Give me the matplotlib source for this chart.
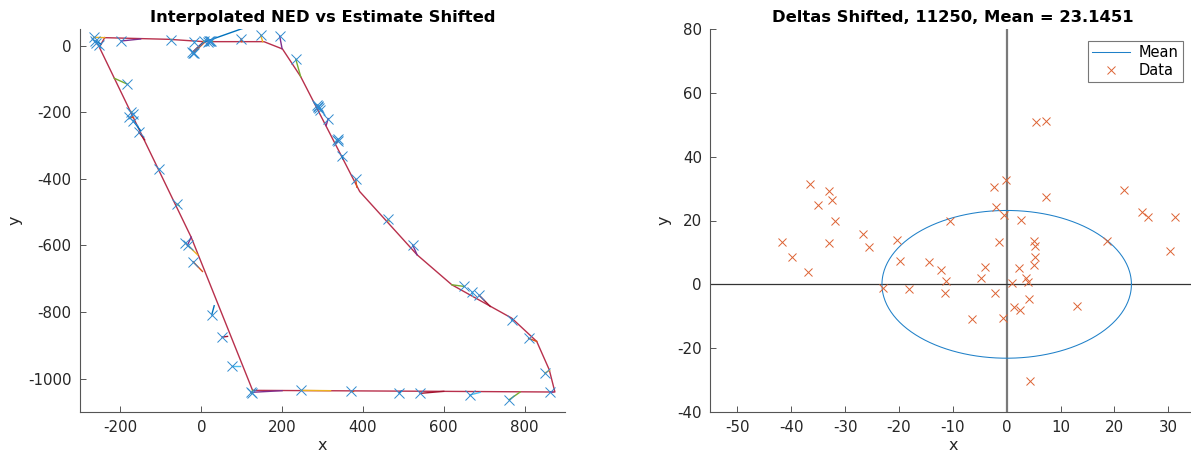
import numpy as np
import matplotlib
matplotlib.use("Agg")
import matplotlib.pyplot as plt

plt.rcParams['font.family'] = ['DejaVu Sans']
plt.rcParams['axes.unicode_minus'] = False

# Interpolated NED trajectory (one lap, clockwise from the top-left corner)
ned_path_x = [-239, -80, 7, 155, 201, 246, 392, 534, 620, 719, 768, 830, 861, 875,
              600, 127, -25, -252, -239]
ned_path_y = [24, 19, 12, 12, -10, -93, -438, -628, -718, -785, -818, -888, -973, -1040,
              -1038, -1035, -575, -5, 24]

# Shifted position estimates (time order) and the NED point each one is compared with
est_x = [-266, -198, -75, -17, -22, -20, -19, 6, 17, 24, 19, 22, 250, 98,
         147, 194, 234, 287, 289, 290, 292, 295, 314, 337, 338, 339, 349,
         382, 461, 523, 651, 670, 688, 769, 810, 850, 863, 762, 664, 542, 490, 370,
         246, 123, 125, 77, 52, 26, -20, -39, -34, -60, -104, -154, -169, -178,
         -173, -170, -184, -254, -260, -264]
est_y = [25, 14, 17, 12, -20, -23, -21, 15, 12, 14, 13, 15, 115, 21,
         32, 29, -41, -178, -182, -185, -188, -193, -219, -283, -280, -285, -331,
         -401, -521, -598, -723, -740, -750, -825, -879, -983, -1039, -1063, -1049,
         -1044, -1043, -1036, -1035, -1041, -1044, -963, -875, -808, -649, -593, -599,
         -476, -370, -260, -225, -215, -198, -205, -115, 2, 9, 15]
ned_x = [-239, -150, -75, -12, 6, 8, 12, 5, 18, 28, 20, 24, 10, 100,
         152, 200, 246, 290, 291, 293, 294, 296, 309, 332, 333, 335, 350,
         385, 465, 534, 620, 672, 715, 770, 830, 862, 870, 789, 690, 600, 495, 375,
         320, 200, 127, 96, 65, 32, 3, -9, -25, -55, -103, -140, -150, -168,
         -172, -168, -215, -250, -252, -248]
ned_y = [24, 20, 19, 14, 12, 13, 14, 12, 12, 12, 12, 12, 12, 12,
         12, -9, -93, -185, -187, -190, -192, -195, -240, -290, -288, -292, -340,
         -425, -528, -628, -718, -752, -783, -822, -888, -975, -1040, -1040, -1041,
         -1038, -1037, -1036, -1036, -1036, -1035, -963, -873, -781, -678, -628, -575,
         -480, -375, -283, -255, -215, -200, -205, -98, -5, -2, 5]

# Estimate-minus-truth deltas
delta_x = [-36.5, -35.1, -32.9, -32.4, -31.8, -41.7, -39.9, -36.8, -33.0, -26.6, -25.6,
           -22.9, -18.1, -20.3, -19.8, -14.4, -12.2, -11.3, -11.4, -10.6, -6.5, -4.7,
           -4.0, -2.1, -1.9, -1.4, -0.7, -0.5, 0.9, 1.4, 2.2, 2.5, 2.7, 3.6, 3.9, 4.2,
           4.4, 5.0, 5.2, 5.3, 5.0, 13.0, 18.6, 25.1, 26.3, 31.3, 30.3, 5.4, 7.3, -0.2,
           -2.3, 7.3, 21.7]
delta_y = [31.5, 24.9, 29.1, 26.5, 19.8, 13.4, 8.6, 3.8, 12.9, 15.8, 11.8,
           -1.2, -1.5, 13.8, 7.3, 6.9, 4.4, 1.2, -2.6, 19.7, -10.8, 2.1,
           5.5, -2.7, 24.3, 13.4, -10.6, 21.8, 0.4, -7.2, 5.1, -7.9, 20.1, 2.1, 0.7, -4.6,
           -30.4, 13.6, 11.9, 8.6, 6.2, -6.8, 13.6, 22.8, 21.1, 21.2, 10.5, 50.9, 51.1, 32.7,
           30.4, 27.5, 29.6]
n_samples = 11250
mean_delta = 23.1451

color_order = ['#0072BD', '#D95319', '#EDB120', '#7E2F8E', '#77AC30', '#4DBEEE', '#A2142F']
axis_color = '#262626'


def style_axes(ax):
    for side in ('top', 'right'):
        ax.spines[side].set_visible(False)
    for side in ('left', 'bottom'):
        ax.spines[side].set_color('#555555')
        ax.spines[side].set_linewidth(0.8)
    ax.tick_params(direction='in', length=4, width=0.7, color='#555555',
                   labelcolor=axis_color, labelsize=10.8, pad=6)


fig = plt.figure(figsize=(11.91, 4.55), dpi=100)
ax1 = fig.add_axes([80 / 1191, 43 / 455, 485 / 1191, 383 / 455])
ax2 = fig.add_axes([710.3 / 1191, 43 / 455, 485 / 1191, 383 / 455])

# ---- Left: trajectory with estimates ----
ax1.plot(ned_path_x, ned_path_y, color='#B8304C', lw=1.0, zorder=2)
for i in range(len(est_x)):
    # connectors continue the default colour cycle after the first two series
    ax1.plot([est_x[i], ned_x[i]], [est_y[i], ned_y[i]],
             color=color_order[(i + 2) % len(color_order)], lw=1.0, zorder=3)
ax1.plot(est_x, est_y, linestyle='none', marker='x', color='#2F8AD0',
         markersize=7, markeredgewidth=0.7, zorder=4)
ax1.set_xlim(-300, 900)
ax1.set_ylim(-1100, 50)
ax1.set_xticks([-200, 0, 200, 400, 600, 800])
ax1.set_yticks([-1000, -800, -600, -400, -200, 0])
style_axes(ax1)
ax1.set_title('Interpolated NED vs Estimate Shifted', fontsize=11.8, fontweight='bold', pad=5)
ax1.set_xlabel('x', fontsize=11.5, color=axis_color, labelpad=2)
ax1.set_ylabel('y', fontsize=11.5, color=axis_color, labelpad=4)

# ---- Right: deltas with mean-radius circle ----
theta = np.linspace(0, 2 * np.pi, 361)
mean_line, = ax2.plot(mean_delta * np.cos(theta), mean_delta * np.sin(theta),
                      color='#1F80C8', lw=0.75, label='Mean', zorder=3)
data_pts, = ax2.plot(delta_x, delta_y, linestyle='none', marker='x', color='#DD6233',
                     markersize=6, markeredgewidth=0.7, label='Data', zorder=4)
ax2.axvline(0, color='#7a7a7a', lw=1.6, zorder=2)
ax2.axhline(0, color='#333333', lw=0.9, zorder=2)
ax2.set_xlim(-55, 35)
ax2.set_ylim(-40, 80)
ax2.set_xticks([-50, -40, -30, -20, -10, 0, 10, 20, 30])
ax2.set_yticks([-40, -20, 0, 20, 40, 60, 80])
style_axes(ax2)
ax2.set_title(f'Deltas Shifted, {n_samples}, Mean = {mean_delta:.4f}',
              fontsize=11.8, fontweight='bold', pad=5)
ax2.set_xlabel('x', fontsize=11.5, color=axis_color, labelpad=2)
ax2.set_ylabel('y', fontsize=11.5, color=axis_color, labelpad=4)
leg = ax2.legend(handles=[mean_line, data_pts], loc='upper right',
                 bbox_to_anchor=(1183 / 1191, 1 - 40.7 / 455), bbox_transform=fig.transFigure,
                 borderaxespad=0, fontsize=10.5, frameon=True, fancybox=False,
                 handlelength=2.6, handletextpad=0.6, borderpad=0.3, labelspacing=0.2)
leg.get_frame().set_edgecolor('#555555')
leg.get_frame().set_linewidth(0.8)

fig.savefig('out.png', dpi=100)
